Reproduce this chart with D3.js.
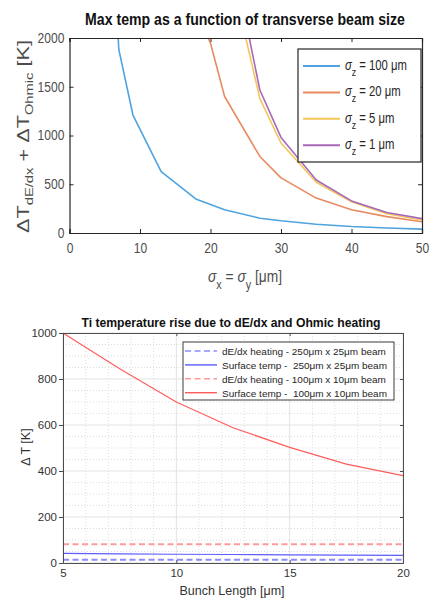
<!DOCTYPE html>
<html>
<head>
<meta charset="utf-8">
<script src="https://cdn.jsdelivr.net/npm/d3@7"></script>
<style>
  html, body { margin: 0; padding: 0; background: #fff; }
  svg { display: block; }
  text { font-family: "Liberation Sans", Arial, sans-serif; }
</style>
</head>
<body>
<svg id="chart" width="430" height="598"></svg>
<script>
// ---------- Top chart data: max temp vs transverse beam size ----------
const topTitle = "Max temp as a function of transverse beam size";
const topXTicks = [0, 10, 20, 30, 40, 50];
const topYTicks = [0, 500, 1000, 1500, 2000];
const sigmaZLabels = ["100 μm", "20 μm", "5 μm", "1 μm"];
const topColors = ["#4fa3de", "#ea8a60", "#f4c65a", "#a569b8"];

const sz100X = [5, 7, 9, 13, 18, 22, 27, 30, 35, 40, 45, 50];
const sz100Y = [4300, 1880, 1210, 630, 345, 238, 152, 125, 90, 66, 52, 40];
const sz20X  = [18, 20, 22, 27, 30, 35, 40, 45, 50];
const sz20Y  = [2270, 1946, 1400, 785, 565, 358, 238, 168, 115];
const sz5X   = [22, 27, 30, 35, 40, 45, 50];
const sz5Y   = [2940, 1378, 923, 520, 320, 198, 133];
const sz1X   = [22, 27, 30, 35, 40, 45, 50];
const sz1Y   = [3240, 1467, 980, 544, 329, 210, 147];

// ---------- Bottom chart data: Ti temperature rise ----------
const botTitle = "Ti temperature rise due to dE/dx and Ohmic heating";
const bunchLength = [5, 7.5, 10, 12.5, 15, 17.5, 20];
const dedx250 = [14, 14, 14, 14, 14, 14, 14];
const surf250 = [42, 40, 38, 37, 35, 34, 33];
const dedx100 = [82, 82, 82, 82, 82, 82, 82];
const surf100 = [1000, 845, 700, 588, 503, 430, 380];
const botXTicks = [5, 10, 15, 20];
const botYTicks = [0, 200, 400, 600, 800, 1000];
const botLegend = [
  "dE/dx heating - 250μm x 25μm beam",
  "Surface temp -  250μm x 25μm beam",
  "dE/dx heating - 100μm x 10μm beam",
  "Surface temp -  100μm x 10μm beam"
];
const botColors = ["#8c8cff", "#5c5cff", "#ff9a9a", "#ff5c5c"];
const botDashed = [true, false, true, false];

const svg = d3.select("#chart");

// horizontally squeeze a text (placed at 0,0 inside a positioned group) to a target width
function fitWidth(textSel, targetW) {
  const w = textSel.node().getComputedTextLength();
  const s = targetW / w;
  textSel.attr("transform", `scale(${s},1)`);
  return s;
}

// =================== TOP CHART ===================
(function () {
  const L = 69.5, R = 422, T = 38, B = 233;
  const x = d3.scaleLinear().domain([0, 50]).range([L, R]);
  const y = d3.scaleLinear().domain([0, 2000]).range([B, T]);
  const g = svg.append("g");
  const axisColor = "#262626";
  const NARROW = 0.86;

  g.append("defs").append("clipPath").attr("id", "clipTop")
    .append("rect").attr("x", L).attr("y", T).attr("width", R - L).attr("height", B - T);

  const tt = g.append("g").attr("transform", "translate(245,25)")
    .append("text").attr("text-anchor", "middle")
    .attr("font-size", 16.5).attr("font-weight", "bold").attr("fill", "#111")
    .text(topTitle);
  fitWidth(tt, 320);

  const series = [[sz100X, sz100Y], [sz20X, sz20Y], [sz5X, sz5Y], [sz1X, sz1Y]];
  const line = d3.line().x(d => x(d[0])).y(d => y(d[1]));
  const lg = g.append("g").attr("clip-path", "url(#clipTop)");
  series.forEach((s, i) => {
    lg.append("path").datum(s[0].map((v, k) => [v, s[1][k]]))
      .attr("d", line).attr("fill", "none")
      .attr("stroke", topColors[i]).attr("stroke-width", 1.6)
      .attr("stroke-linejoin", "round");
  });

  // axes box with inward ticks on all sides
  const fmt = d3.format("d");
  const bottomAx = d3.axisBottom(x).tickValues(topXTicks).tickSize(-4).tickPadding(10).tickFormat(fmt);
  const leftAx = d3.axisLeft(y).tickValues(topYTicks).tickSize(-4).tickPadding(6).tickFormat(fmt);
  const topAx = d3.axisTop(x).tickValues(topXTicks).tickSize(-4).tickFormat("");
  const rightAx = d3.axisRight(y).tickValues(topYTicks).tickSize(-4).tickFormat("");
  [[bottomAx, `translate(0,${B})`], [leftAx, `translate(${L},0)`],
   [topAx, `translate(0,${T})`], [rightAx, `translate(${R},0)`]].forEach(([ax, tr]) => {
    const a = g.append("g").attr("transform", tr).call(ax);
    a.select(".domain").attr("stroke", axisColor).attr("stroke-width", 1.2);
    a.selectAll(".tick line").attr("stroke", axisColor);
    a.selectAll(".tick text").attr("font-size", 14).attr("fill", "#4d4d4d")
      .attr("font-family", "Liberation Sans, Arial, sans-serif")
      .attr("transform", `scale(${NARROW},1)`);
  });

  // x label: σx = σy [μm]
  const xl = g.append("g").attr("transform", "translate(245,282)")
    .append("text").attr("text-anchor", "middle").attr("font-size", 16).attr("fill", "#4d4d4d");
  xl.append("tspan").attr("font-style", "italic").text("σ");
  xl.append("tspan").attr("font-size", 12.5).attr("dy", 7).text("x");
  xl.append("tspan").attr("dy", -7).text(" = ");
  xl.append("tspan").attr("font-style", "italic").text("σ");
  xl.append("tspan").attr("font-size", 12.5).attr("dy", 7).text("y");
  xl.append("tspan").attr("dy", -7).text(" [μm]");
  fitWidth(xl, 74);

  // y label
  const yl = g.append("g").attr("transform", "translate(28.5,136.5) rotate(-90)")
    .append("text").attr("text-anchor", "middle").attr("font-size", 17).attr("fill", "#4d4d4d");
  yl.append("tspan").text("ΔT");
  yl.append("tspan").attr("font-size", 11.5).attr("dy", 4.5).text("dE/dx");
  yl.append("tspan").attr("dy", -4.5).text(" + ΔT");
  yl.append("tspan").attr("font-size", 11.5).attr("dy", 4.5).text("Ohmic");
  yl.append("tspan").attr("dy", -4.5).text(" [K]");
  fitWidth(yl, 193);

  // legend
  g.append("rect").attr("x", 298).attr("y", 49).attr("width", 123).attr("height", 113)
    .attr("fill", "#fff").attr("stroke", axisColor).attr("stroke-width", 1.2);
  let legScale = null;
  sigmaZLabels.forEach((lab, i) => {
    const yy = 66 + i * 26.4;
    g.append("line").attr("x1", 303).attr("x2", 340).attr("y1", yy).attr("y2", yy)
      .attr("stroke", topColors[i]).attr("stroke-width", 2);
    const t = g.append("g").attr("transform", `translate(345,${yy + 4})`)
      .append("text").attr("font-size", 15).attr("fill", "#262626");
    t.append("tspan").attr("font-style", "italic").text("σ");
    t.append("tspan").attr("font-size", 11.5).attr("dy", 6).text("z");
    t.append("tspan").attr("dy", -6).text(" = " + lab);
    if (legScale === null) legScale = fitWidth(t, 62);
    else t.attr("transform", `scale(${legScale},1)`);
  });
})();

// =================== BOTTOM CHART ===================
(function () {
  const L = 63, R = 403, T = 333, B = 563;
  const x = d3.scaleLinear().domain([5, 20]).range([L, R]);
  const y = d3.scaleLinear().domain([0, 1000]).range([B, T]);
  const g = svg.append("g");
  const axisColor = "#4d4d4d";

  // minor grid (dotted)
  const minorX = d3.range(5, 20.01, 1).filter(v => v % 5 !== 0);
  const minorY = d3.range(0, 1000.1, 50).filter(v => v % 200 !== 0);
  g.append("g").selectAll("line").data(minorX).join("line")
    .attr("x1", d => x(d)).attr("x2", d => x(d)).attr("y1", T).attr("y2", B)
    .attr("stroke", "#d4d4d4").attr("stroke-width", 0.8).attr("stroke-dasharray", "1,2");
  g.append("g").selectAll("line").data(minorY).join("line")
    .attr("y1", d => y(d)).attr("y2", d => y(d)).attr("x1", L).attr("x2", R)
    .attr("stroke", "#d4d4d4").attr("stroke-width", 0.8).attr("stroke-dasharray", "1,2");
  // major grid
  g.append("g").selectAll("line").data(botXTicks).join("line")
    .attr("x1", d => x(d)).attr("x2", d => x(d)).attr("y1", T).attr("y2", B)
    .attr("stroke", "#e3e3e3").attr("stroke-width", 1);
  g.append("g").selectAll("line").data(botYTicks).join("line")
    .attr("y1", d => y(d)).attr("y2", d => y(d)).attr("x1", L).attr("x2", R)
    .attr("stroke", "#e3e3e3").attr("stroke-width", 1);

  // series
  const series = [dedx250, surf250, dedx100, surf100];
  const line = d3.line().x(d => x(d[0])).y(d => y(d[1]));
  series.forEach((s, i) => {
    g.append("path").datum(bunchLength.map((v, k) => [v, s[k]]))
      .attr("d", line).attr("fill", "none")
      .attr("stroke", botColors[i])
      .attr("stroke-width", botDashed[i] ? 2 : 1.2)
      .attr("stroke-dasharray", botDashed[i] ? "6,3.5" : null);
  });

  // axes
  const fmt = d3.format("d");
  const bottomAx = d3.axisBottom(x).tickValues(botXTicks).tickSize(-3).tickPadding(6).tickFormat(fmt);
  const leftAx = d3.axisLeft(y).tickValues(botYTicks).tickSize(4).tickPadding(2).tickFormat(fmt);
  const topAx = d3.axisTop(x).tickValues(botXTicks).tickSize(-3).tickFormat("");
  const rightAx = d3.axisRight(y).tickValues(botYTicks).tickSize(-3).tickFormat("");
  [[bottomAx, `translate(0,${B})`], [leftAx, `translate(${L},0)`],
   [topAx, `translate(0,${T})`], [rightAx, `translate(${R},0)`]].forEach(([ax, tr]) => {
    const a = g.append("g").attr("transform", tr).call(ax);
    a.select(".domain").attr("stroke", axisColor).attr("stroke-width", 1);
    a.selectAll(".tick line").attr("stroke", axisColor);
    a.selectAll(".tick text").attr("font-size", 11.5).attr("fill", "#333")
      .attr("font-family", "Liberation Sans, Arial, sans-serif");
  });

  g.append("text").attr("x", 231).attr("y", 327)
    .attr("text-anchor", "middle").attr("font-size", 12.2).attr("font-weight", "bold")
    .attr("fill", "#111").text(botTitle);

  g.append("text").attr("x", 232).attr("y", 595)
    .attr("text-anchor", "middle").attr("font-size", 12.5).attr("fill", "#333")
    .text("Bunch Length [μm]");

  g.append("text").attr("transform", "translate(30,447) rotate(-90)")
    .attr("text-anchor", "middle").attr("font-size", 12.5).attr("fill", "#333")
    .text("Δ T [K]");

  // legend
  g.append("rect").attr("x", 183).attr("y", 342).attr("width", 211).attr("height", 58)
    .attr("fill", "#fff").attr("stroke", "#262626").attr("stroke-width", 0.9);
  const texts = [];
  botLegend.forEach((lab, i) => {
    const yy = 351 + i * 13.9;
    g.append("line").attr("x1", 185).attr("x2", 217).attr("y1", yy).attr("y2", yy)
      .attr("stroke", botColors[i]).attr("stroke-width", botDashed[i] ? 1.6 : 1.4)
      .attr("stroke-dasharray", botDashed[i] ? "6,3.5" : null);
    texts.push(g.append("text").attr("x", 222).attr("y", yy + 4)
      .attr("font-size", 11.5).attr("fill", "#262626")
      .attr("xml:space", "preserve").style("white-space", "pre").text(lab));
  });
  // size legend font so the longest entry spans the same width as the reference
  const w = texts[1].node().getComputedTextLength();
  const fs = 11.5 * 165 / w;
  texts.forEach(t => t.attr("font-size", fs));
})();
</script>
</body>
</html>
